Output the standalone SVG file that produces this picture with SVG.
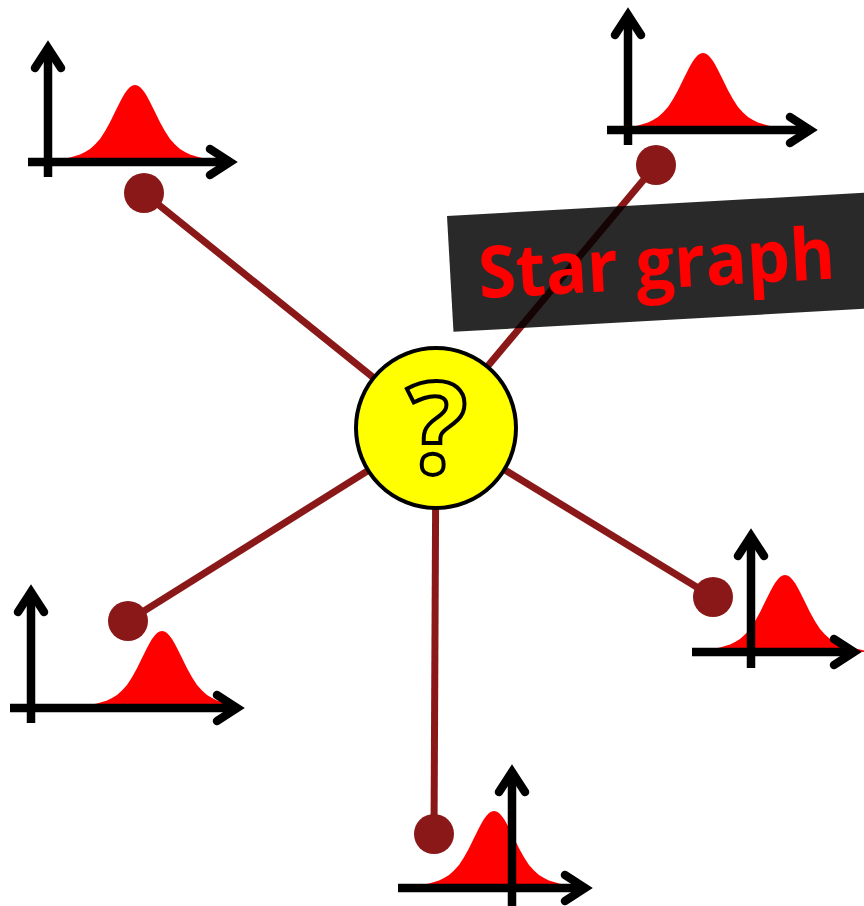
<svg xmlns="http://www.w3.org/2000/svg" width="864" height="906" viewBox="0 0 864 906">
<style>
.edge{stroke:#8B1818;stroke-width:7;fill:none}
.dot{fill:#8B1818}
.bell{fill:#FF0000}
.ax{stroke:#000;stroke-width:8.5;fill:none;stroke-linecap:butt}
.hd{stroke:#000;stroke-width:8.5;fill:none;stroke-linecap:round;stroke-linejoin:miter}
.hub{fill:#FFFF00;stroke:#000;stroke-width:4}
.q{font-family:"Open Sans","DejaVu Sans",sans-serif;font-weight:bold;font-size:128px;fill:#FFFF00;stroke:#000;stroke-width:4;text-anchor:middle}
.lbl{font-family:"Open Sans","DejaVu Sans",sans-serif;font-weight:bold;font-size:72px;fill:#FF0000}
</style>
<defs>
<path id="bell" d="M-80,0 L-80,-1.2 -75,-2.5 -70,-3.6 -65,-4.6 -60,-5.9 -55,-7.6 -50,-9.9 -45,-13 -40,-17.4 -35,-23.1 -30,-30.7 -25,-39.8 -20,-50 -17.5,-55.1 -15,-60.1 -12.5,-64.7 -10,-68.9 -7.5,-72.3 -5,-74.9 -2.5,-76.5 0,-77 2.5,-76.5 5,-74.9 7.5,-72.3 10,-68.9 12.5,-64.7 15,-60.1 17.5,-55.1 20,-50 25,-39.8 30,-30.7 35,-23.1 40,-17.4 45,-13 50,-9.9 55,-7.6 60,-5.9 65,-4.6 70,-3.6 75,-2.5 80,-1.2 L80,0 Z"/>
</defs>
<g id="connectors">
<line class="edge" x1="436" y1="428" x2="144" y2="193"/>
<line class="edge" x1="436" y1="428" x2="656" y2="165"/>
<line class="edge" x1="436" y1="428" x2="713" y2="597"/>
<line class="edge" x1="436" y1="428" x2="434" y2="834"/>
<line class="edge" x1="436" y1="428" x2="128" y2="621"/>
</g>
<g id="leaf-top-left">
<use href="#bell" class="bell" x="135" y="162"/>
<line class="ax" x1="48" y1="177" x2="48" y2="48"/>
<polyline class="hd" points="35,68 48,48 61,68"/>
<line class="ax" x1="28" y1="162" x2="230" y2="162"/>
<polyline class="hd" points="210,149 230,162 210,175"/>
<circle class="dot" cx="144" cy="193" r="20"/>
</g>
<g id="leaf-top-right">
<use href="#bell" class="bell" x="703" y="130"/>
<line class="ax" x1="628" y1="145" x2="628" y2="15"/>
<polyline class="hd" points="615,35 628,15 641,35"/>
<line class="ax" x1="607" y1="130" x2="810" y2="130"/>
<polyline class="hd" points="790,117 810,130 790,143"/>
<circle class="dot" cx="656" cy="165" r="20"/>
</g>
<g id="leaf-right">
<use href="#bell" class="bell" x="785" y="652"/>
<line class="ax" x1="751" y1="668" x2="751" y2="536"/>
<polyline class="hd" points="738,556 751,536 764,556"/>
<line class="ax" x1="692" y1="652" x2="854" y2="652"/>
<polyline class="hd" points="834,639 854,652 834,665"/>
<circle class="dot" cx="713" cy="597" r="20"/>
</g>
<g id="leaf-bottom">
<use href="#bell" class="bell" x="494" y="888"/>
<line class="ax" x1="512" y1="906" x2="512" y2="772"/>
<polyline class="hd" points="499,792 512,772 525,792"/>
<line class="ax" x1="398" y1="888" x2="585" y2="888"/>
<polyline class="hd" points="565,875 585,888 565,901"/>
<circle class="dot" cx="434" cy="834" r="20"/>
</g>
<g id="leaf-bottom-left">
<use href="#bell" class="bell" x="162" y="708"/>
<line class="ax" x1="31" y1="723" x2="31" y2="592"/>
<polyline class="hd" points="18,612 31,592 44,612"/>
<line class="ax" x1="10" y1="708" x2="237" y2="708"/>
<polyline class="hd" points="217,695 237,708 217,721"/>
<circle class="dot" cx="128" cy="621" r="20"/>
</g>
<g id="hub">
<circle class="hub" cx="436" cy="428" r="80"/>
<text class="q" x="437" y="473">?</text>
</g>
<g id="label" transform="rotate(-3.2 447 216)">
<rect x="447" y="216" width="425" height="116" fill="#000" fill-opacity="0.84"/>
<text class="lbl" x="475" y="300" textLength="357" lengthAdjust="spacingAndGlyphs">Star graph</text>
</g>
</svg>
